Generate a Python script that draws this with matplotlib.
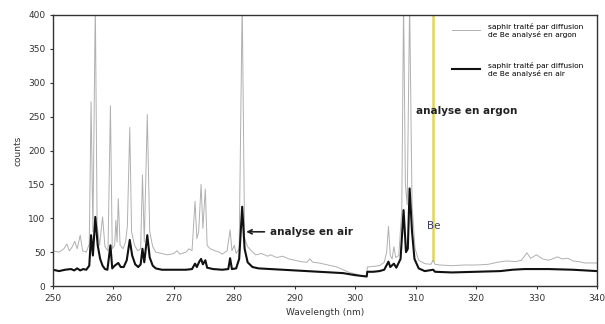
import matplotlib.pyplot as plt
import numpy as np

# spectrum: saphir analysed in argon (grey)
wl_argon = [250.0, 251.0, 251.8, 252.3, 252.7, 253.2, 253.6, 254.0, 254.5, 254.9,
            255.5, 256.0, 256.3, 256.6, 257.0, 257.3, 257.7, 258.2, 258.6, 259.1,
            259.5, 259.8, 260.2, 260.4, 260.6, 260.8, 261.1, 261.6, 262.0, 262.3,
            262.7, 263.0, 263.5, 264.0, 264.5, 264.8, 265.1, 265.6, 266.0, 266.5,
            267.0, 268.0, 269.0, 270.0, 270.5, 271.0, 272.0, 272.5, 273.0, 273.5,
            273.8, 274.1, 274.5, 274.8, 275.2, 275.5, 276.0, 276.8, 277.5, 278.0,
            278.8, 279.3, 279.6, 280.0, 280.3, 280.8, 281.3, 281.7, 282.2, 282.8,
            283.5, 284.5, 285.5, 286.0, 287.0, 288.0, 289.0, 290.0, 291.0, 292.0,
            292.5, 293.0, 294.0, 295.0, 296.0, 297.0, 298.0, 299.0, 300.0, 301.0,
            301.9, 302.0, 303.0, 304.0, 304.8, 305.2, 305.5, 305.8, 306.1, 306.4,
            306.7, 307.2, 307.7, 308.0, 308.3, 308.6, 309.0, 309.4, 309.9, 310.5,
            311.5, 312.5, 312.9, 313.2, 314.0, 316.0, 318.0, 320.0, 322.0, 323.5,
            325.0, 326.5, 327.5, 328.4, 329.0, 330.0, 331.0, 332.0, 333.5, 334.2,
            335.2, 336.0, 337.0, 338.0, 340.0]
counts_argon = [52, 50, 55, 62, 52, 58, 66, 55, 75, 52,
                50, 62, 272, 80, 420, 90, 60, 102, 58, 52,
                266, 55, 60, 97, 65, 129, 60, 55, 65, 88,
                234, 80, 60, 52, 55, 164, 65, 253, 80, 58,
                50, 48, 46, 48, 52, 47, 50, 55, 52, 125,
                70, 80, 150, 85, 143, 60, 55, 52, 50, 47,
                52, 83, 52, 60, 48, 55, 420, 70, 58, 52,
                46, 48, 44, 46, 42, 44, 40, 38, 36, 35,
                40, 35, 34, 32, 30, 28, 24, 20, 18, 15,
                14, 28, 29, 30, 35, 50, 88, 45, 40, 58,
                42, 45, 110, 420, 150, 120, 420, 120, 55, 38,
                33, 32, 38, 32, 31, 30, 31, 31, 32, 35,
                37, 36, 38, 49, 41, 46, 40, 38, 43, 40,
                41, 37, 36, 34, 34]

# same sample analysed in air (black)
wl_air = [250.0, 251.0, 252.0, 253.0, 253.5, 254.0, 254.5, 255.0, 255.5, 256.0,
          256.3, 256.6, 257.0, 257.4, 257.8, 258.2, 258.6, 259.0, 259.5, 259.8,
          260.2, 260.5, 260.8, 261.2, 261.7, 262.2, 262.7, 263.1, 263.6, 264.1,
          264.5, 264.8, 265.1, 265.6, 266.0, 266.5, 267.0, 268.0, 270.0, 272.0,
          273.0, 273.5, 273.8, 274.2, 274.5, 274.8, 275.2, 275.5, 276.5, 278.0,
          279.0, 279.3, 279.6, 280.3, 280.8, 281.3, 281.7, 282.2, 283.0, 284.0,
          286.0, 288.0, 290.0, 292.0, 294.0, 296.0, 298.0, 300.0, 301.9, 302.0,
          303.0, 304.0, 304.8, 305.5, 305.8, 306.4, 306.8, 307.5, 308.0, 308.4,
          308.7, 309.0, 309.4, 309.8, 310.5, 311.5, 312.9, 313.2, 316.0, 320.0,
          324.0, 326.0, 328.0, 332.0, 336.0, 340.0]
counts_air = [24, 22, 24, 25, 23, 26, 23, 25, 24, 30,
              75, 45, 102, 60, 40, 30, 25, 24, 60, 26,
              30, 32, 34, 28, 28, 38, 68, 45, 32, 28,
              32, 55, 35, 75, 42, 30, 26, 24, 24, 24,
              25, 33, 28, 36, 40, 32, 38, 27, 25, 24,
              25, 41, 25, 26, 40, 117, 55, 35, 28, 26,
              25, 24, 23, 22, 21, 20, 19, 16, 14, 21,
              21, 22, 24, 36, 28, 33, 27, 40, 112, 50,
              55, 144, 80, 40, 26, 22, 24, 21, 20, 21,
              22, 24, 25, 25, 24, 22]

be_line = 312.9

fig = plt.figure(figsize=(6.05, 3.24), dpi=100)
ax = fig.add_axes([53 / 605, 1 - 286 / 324, 544 / 605, 271 / 324])

ax.plot(wl_argon, counts_argon, color='#b0b0b0', linewidth=0.7,
        label='saphir traité par diffusion\nde Be analysé en argon')
ax.plot(wl_air, counts_air, color='#111111', linewidth=1.5,
        label='saphir traité par diffusion\nde Be analysé en air')

# Be emission line
ax.plot([be_line, be_line], [38, 400], color='#e2d55a', linewidth=1.8, zorder=1)

ax.set_xlim(250, 340)
ax.set_ylim(0, 400)
ax.set_xticks(np.arange(250, 341, 10))
ax.set_yticks(np.arange(0, 401, 50))
ax.tick_params(labelsize=6.5, length=2, colors='#333333')
ax.set_xlabel('Wavelength (nm)', fontsize=6.5, color='#333333')
ax.set_ylabel('counts', fontsize=6.5, color='#333333')
for s in ax.spines.values():
    s.set_color('#333333')
    s.set_linewidth(1)

# labels on the chart
ax.annotate('analyse en air', xy=(281.5, 80), xytext=(285.9, 80),
            fontsize=7.5, fontweight='bold', color='#222222', va='center',
            arrowprops=dict(arrowstyle='->', color='#222222', lw=1.2))
ax.text(310.0, 259, 'analyse en argon', fontsize=7.5, fontweight='bold',
        color='#222222', va='center')
ax.text(313.0, 89, 'Be', fontsize=7.5, color='#3a3a6a', ha='center', va='center')

leg = ax.legend(loc='upper left', bbox_to_anchor=(448 / 605, 1 - 19 / 324),
                bbox_transform=fig.transFigure, fontsize=5.4, frameon=False,
                borderpad=0, labelspacing=3.2, handlelength=3.8,
                handletextpad=1.1)

fig.savefig('out.png', dpi=100)
